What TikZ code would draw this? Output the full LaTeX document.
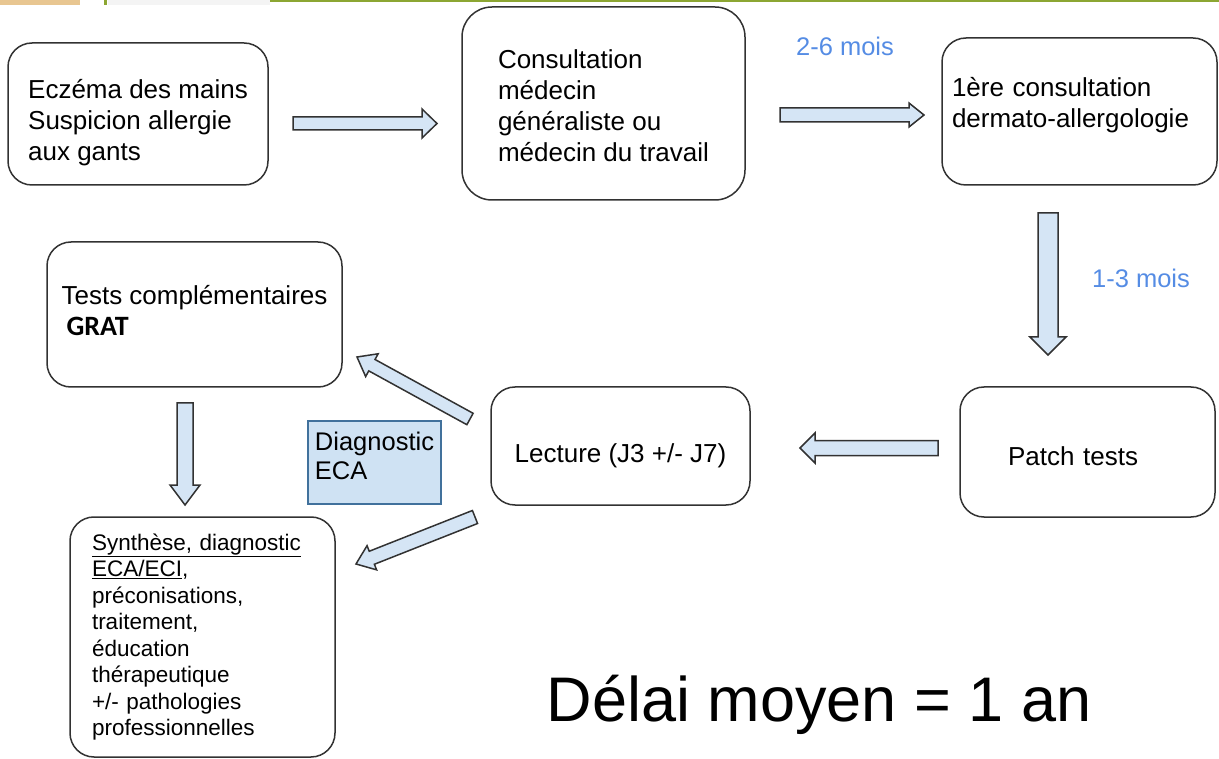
\documentclass[tikz,border=0pt]{standalone}
\usepackage{fontspec}
\setmainfont{Liberation Sans}
\newfontfamily\gratfont{Carlito}
\usetikzlibrary{calc}
\definecolor{boxline}{RGB}{50,50,50}
\definecolor{arrowfill}{RGB}{213,229,245}
\definecolor{diagfill}{RGB}{207,226,243}
\definecolor{diagline}{RGB}{65,113,156}
\definecolor{delayblue}{RGB}{85,140,228}
\definecolor{bartan}{RGB}{232,198,145}
\definecolor{barolive}{RGB}{140,166,50}
\definecolor{barlight}{RGB}{244,244,244}

% block arrow: start, tip, half shaft, half head, head length
\newcommand{\blockarrow}[5]{%
  \coordinate (ba) at ($(#2)!#5!(#1)$);
  \draw[blockarrow] ($(#1)!#3!90:(#2)$) -- ($(ba)!#3!90:(#2)$) -- ($(ba)!#4!90:(#2)$)
    -- (#2) -- ($(ba)!#4!-90:(#2)$) -- ($(ba)!#3!-90:(#2)$) -- ($(#1)!#3!-90:(#2)$) -- cycle;}

\begin{document}
\begin{tikzpicture}[x=1pt, y=-1pt,
  box/.style = {draw=boxline, line width=1.5pt, rounded corners=24pt,
    align=left, inner sep=0pt, font=\fontsize{26}{31}\selectfont},
  blockarrow/.style = {draw=boxline, line width=1.5pt, fill=arrowfill},
  delay/.style = {text=delayblue, font=\fontsize{25.5}{30}\selectfont}]
  \useasboundingbox (0,0) rectangle (1219,759);

  % top strip
  \fill[bartan] (0,0) rectangle (80,5);
  \fill[barolive] (104,0) rectangle (107,5);
  \fill[barlight] (108,0) rectangle (270,5);
  \fill[barolive] (270,0) rectangle (1219,2.5);

  % steps
  \node[box, minimum width=260, minimum height=142] (eczema) at (138,114)
    {\rule{0pt}{36pt}Eczéma des mains\\Suspicion allergie\\aux gants};
  \node[box, minimum width=283, minimum height=193, rounded corners=30pt] (consult) at (603.5,103.5)
    {\rule{0pt}{24pt}Consultation\\médecin\\généraliste ou\\médecin du travail};
  \node[box, minimum width=275, minimum height=147, text width=255] (dermato) at (1079.5,111.5)
    {1ère consultation\\dermato-allergologie\\[-13pt]\mbox{}};
  \node[box, minimum width=255, minimum height=130, text width=159] (patch) at (1087.5,452)
    {\rule{0pt}{27pt}Patch tests};
  \node[box, minimum width=259, minimum height=118] (lecture) at (620.5,446)
    {\rule{0pt}{39pt}Lecture (J3 +/- J7)};
  \node[box, minimum width=295, minimum height=145] (tests) at (194.5,314.5)
    {Tests complémentaires\\\hspace*{5pt}{\gratfont\fontsize{28}{31}\selectfont\bfseries GRAT}\\[-22pt]\mbox{}};
  \node[box, minimum width=265, minimum height=240, text width=221,
    font=\fontsize{22.5}{26.5}\selectfont] (synthese) at (202.5,637)
    {\underline{Synthèse, diagnostic}\\\underline{ECA/ECI},\\préconisations,\\traitement,\\éducation\\thérapeutique\\+/- pathologies\\professionnelles};
  \node[draw=diagline, line width=1.5pt, fill=diagfill, align=left, inner sep=0pt,
    minimum width=133, minimum height=83, font=\fontsize{25.5}{29}\selectfont] (diag) at (374.5,462.5)
    {Diagnostic\\ECA\\[-16pt]\mbox{}};

  % delays
  \node[delay] (d26) at (845,46) {2-6 mois};
  \node[delay] (d13) at (1141,278) {1-3 mois};
  \node[font=\fontsize{63}{70}\selectfont] (delai) at (819,705) {Délai moyen = 1 an};

  % arrows
  \coordinate (a1s) at (293,123.5); \coordinate (a1e) at (437,123.5);
  \coordinate (a2s) at (780,115);   \coordinate (a2e) at (924,115);
  \coordinate (a3s) at (1048,213);  \coordinate (a3e) at (1048,355);
  \coordinate (a4s) at (938,448);   \coordinate (a4e) at (800,448);
  \coordinate (a5s) at (470,419);   \coordinate (a5e) at (357,357);
  \coordinate (a6s) at (185,403);   \coordinate (a6e) at (185,505);
  \coordinate (a7s) at (475,517);   \coordinate (a7e) at (356,564);
  \blockarrow{a1s}{a1e}{6.5pt}{14.5pt}{15pt}
  \blockarrow{a2s}{a2e}{7pt}{12pt}{15pt}
  \blockarrow{a3s}{a3e}{10pt}{18pt}{18pt}
  \blockarrow{a4s}{a4e}{7.5pt}{15pt}{15pt}
  \blockarrow{a5s}{a5e}{6.5pt}{13pt}{17pt}
  \blockarrow{a6s}{a6e}{8pt}{15pt}{20pt}
  \blockarrow{a7s}{a7e}{7pt}{13pt}{17pt}
\end{tikzpicture}
\end{document}
